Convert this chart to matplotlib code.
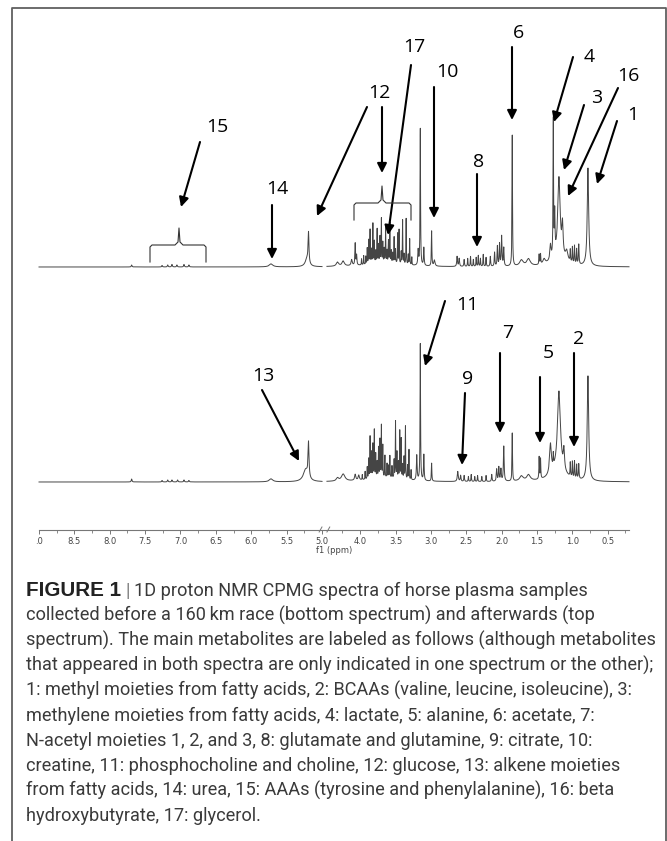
import numpy as np
import matplotlib.pyplot as plt
from matplotlib.lines import Line2D
from matplotlib.patches import FancyArrowPatch
from matplotlib.transforms import Affine2D

W, H = 667, 841

# peak tables: position (ppm), height (px), half width (ppm)
top_ppm = [7.69, 7.26, 7.18, 7.12, 7.05, 6.95, 6.88, 5.72, 5.19, 5.21,
           4.32, 4.24, 4.12, 4.07, 4.05,
           3.98, 3.95, 3.92, 3.90, 3.88, 3.86, 3.84, 3.82, 3.80, 3.78, 3.76,
           3.74, 3.72, 3.70, 3.68, 3.66, 3.64, 3.62, 3.60, 3.58, 3.56, 3.54,
           3.52, 3.50, 3.47, 3.45, 3.42, 3.40, 3.38, 3.35, 3.32, 3.30, 3.27,
           3.65, 3.18, 3.15, 3.10, 2.99, 2.95,
           2.63, 2.60, 2.53, 2.48, 2.44, 2.40, 2.36, 2.33, 2.30, 2.26, 2.22,
           2.16, 2.10, 2.06, 2.03, 2.00, 1.97, 1.85, 1.72, 1.62, 1.47, 1.45,
           1.40, 1.31, 1.27, 1.25, 1.19, 1.14, 1.08, 1.03, 1.00, 0.97, 0.94,
           0.91, 0.78, 1.20]
top_height = [2, 1.5, 2, 2.5, 2, 2.5, 2, 3, 30, 8,
              4, 5, 6, 22, 10,
              6, 9, 8, 16, 24, 34, 14, 40, 22, 12, 34,
              18, 26, 44, 20, 14, 36, 12, 22, 40, 12, 10,
              26, 14, 30, 34, 12, 44, 10, 46, 10, 26, 8,
              4, 15, 137, 18, 35, 6,
              10, 8, 7, 8, 10, 7, 9, 11, 8, 12, 9,
              10, 14, 20, 22, 30, 18, 131, 6, 7, 10, 10,
              5, 15, 136, 40, 80, 30, 10, 12, 16, 18, 15,
              20, 98, 8]
top_width = [0.006, 0.006, 0.006, 0.006, 0.006, 0.006, 0.006, 0.03, 0.007, 0.03,
             0.02, 0.02, 0.01, 0.005, 0.005,
             0.003, 0.003, 0.003, 0.003, 0.003, 0.003, 0.003, 0.003, 0.003, 0.003, 0.003,
             0.003, 0.003, 0.003, 0.003, 0.003, 0.003, 0.003, 0.003, 0.003, 0.003, 0.003,
             0.003, 0.003, 0.003, 0.003, 0.003, 0.003, 0.003, 0.003, 0.003, 0.003, 0.003,
             0.3, 0.006, 0.004, 0.005, 0.004, 0.01,
             0.006, 0.006, 0.005, 0.004, 0.004, 0.004, 0.004, 0.004, 0.004, 0.004, 0.004,
             0.005, 0.005, 0.005, 0.005, 0.006, 0.005, 0.004, 0.03, 0.03, 0.004, 0.004,
             0.02, 0.01, 0.004, 0.005, 0.02, 0.01, 0.02, 0.004, 0.004, 0.004, 0.004,
             0.005, 0.012, 0.12]

bot_ppm = [7.69, 7.26, 7.18, 7.12, 7.04, 6.95, 6.88, 5.72, 5.19, 5.23,
           4.32, 4.24, 4.07, 4.02,
           3.97, 3.93, 3.90, 3.88, 3.86, 3.84, 3.82, 3.80, 3.78, 3.76, 3.74,
           3.72, 3.70, 3.68, 3.65, 3.62, 3.60, 3.58, 3.55, 3.52, 3.50, 3.48,
           3.46, 3.44, 3.42, 3.40, 3.38, 3.36, 3.33, 3.31, 3.28,
           3.65, 3.20, 3.15, 3.10, 2.99,
           2.62, 2.58, 2.53, 2.47, 2.43, 2.38, 2.34, 2.28, 2.22, 2.14, 2.07,
           2.04, 2.01, 1.97, 1.85, 1.72, 1.62, 1.47, 1.45, 1.31, 1.27, 1.19,
           1.12, 1.03, 1.00, 0.97, 0.94, 0.91, 0.78, 1.20]
bot_height = [3, 1.5, 2, 2, 2, 2, 1.5, 3, 35, 12,
              3, 7, 6, 5,
              5, 8, 12, 20, 42, 26, 34, 48, 24, 16, 30,
              38, 52, 32, 22, 14, 12, 22, 12, 18, 57, 26,
              16, 48, 40, 14, 22, 53, 14, 30, 10,
              4, 25, 137, 26, 18,
              10, 6, 6, 5, 7, 5, 6, 5, 6, 7, 12,
              14, 12, 35, 48, 5, 6, 22, 20, 30, 12, 80,
              20, 14, 16, 17, 14, 15, 105, 10]
bot_width = [0.006, 0.006, 0.006, 0.006, 0.006, 0.006, 0.006, 0.03, 0.008, 0.04,
             0.02, 0.03, 0.01, 0.01,
             0.003, 0.003, 0.003, 0.003, 0.003, 0.003, 0.003, 0.003, 0.003, 0.003, 0.003,
             0.003, 0.003, 0.003, 0.003, 0.003, 0.003, 0.003, 0.003, 0.003, 0.003, 0.003,
             0.003, 0.003, 0.003, 0.003, 0.003, 0.003, 0.003, 0.003, 0.003,
             0.3, 0.006, 0.004, 0.005, 0.004,
             0.008, 0.006, 0.005, 0.004, 0.004, 0.004, 0.004, 0.004, 0.004, 0.005, 0.006,
             0.006, 0.006, 0.006, 0.004, 0.03, 0.03, 0.004, 0.004, 0.015, 0.004, 0.025,
             0.01, 0.004, 0.004, 0.004, 0.004, 0.005, 0.012, 0.12]

tick_major = [9.0, 8.5, 8.0, 7.5, 7.0, 6.5, 6.0, 5.5, 5.0,
              4.0, 3.5, 3.0, 2.5, 2.0, 1.5, 1.0, 0.5]
tick_labels = ['.0', '8.5', '8.0', '7.5', '7.0', '6.5', '6.0', '5.5', '5.0',
               '4.0', '3.5', '3.0', '2.5', '2.0', '1.5', '1.0', '0.5']
tick_minor = [8.75, 8.25, 7.75, 7.25, 6.75, 6.25, 5.75, 5.25,
              4.25, 3.75, 3.25, 2.75, 2.25, 1.75, 1.25, 0.75, 0.25]

# number label, label position, arrow start, arrow tip (pixels from top-left)
labels = [
    ('6', (519, 33), [((512, 47), (512, 120))]),
    ('4', (589, 57), [((573, 57), (554, 122))]),
    ('16', (628, 76), [((618, 88), (568, 196))]),
    ('3', (597, 98), [((584, 105), (564, 170))]),
    ('1', (633, 115), [((617, 121), (597, 184))]),
    ('17', (414, 47), [((411, 65), (388, 235))]),
    ('10', (447, 72), [((434, 87), (434, 218))]),
    ('12', (379, 93), [((367, 107), (317, 216)), ((382, 107), (382, 173))]),
    ('15', (217, 127), [((200, 142), (181, 207))]),
    ('14', (277, 189), [((272, 205), (272, 259))]),
    ('8', (479, 162), [((477, 174), (477, 247))]),
    ('11', (467, 305), [((445, 301), (425, 366))]),
    ('13', (263, 376), [((262, 390), (299, 461))]),
    ('9', (468, 379), [((465, 393), (462, 465))]),
    ('7', (508, 333), [((500, 353), (500, 433))]),
    ('5', (548, 353), [((540, 377), (540, 443))]),
    ('2', (579, 339), [((574, 353), (574, 447))]),
]

caption = [
    "collected before a 160\u2009km race (bottom spectrum) and afterwards (top",
    "spectrum). The main metabolites are labeled as follows (although metabolites",
    "that appeared in both spectra are only indicated in one spectrum or the other);",
    "1: methyl moieties from fatty acids, 2: BCAAs (valine, leucine, isoleucine), 3:",
    "methylene moieties from fatty acids, 4: lactate, 5: alanine, 6: acetate, 7:",
    "N-acetyl moieties 1, 2, and 3, 8: glutamate and glutamine, 9: citrate, 10:",
    "creatine, 11: phosphocholine and choline, 12: glucose, 13: alkene moieties",
    "from fatty acids, 14: urea, 15: AAAs (tyrosine and phenylalanine), 16: beta",
    "hydroxybutyrate, 17: glycerol.",
]


def lorentz_sum(x, pos, height, width):
    y = np.zeros_like(x)
    for p, h, w in zip(pos, height, width):
        y += h * w ** 2 / ((x - p) ** 2 + w ** 2)
    return y


# axis break: the 4.5-5.0 ppm (water) region is squeezed out
def fwd(x):
    x = np.asarray(x, float)
    return np.where(x <= 4.5, x, np.where(x >= 5.0, x - 0.46, 4.5 + (x - 4.5) * 0.08))


def inv(u):
    u = np.asarray(u, float)
    return np.where(u <= 4.5, u, np.where(u >= 4.54, u + 0.46, 4.5 + (u - 4.5) / 0.08))


fig = plt.figure(figsize=(W / 100, H / 100), dpi=100)
pix = Affine2D().scale(1 / W, -1 / H).translate(0, 1) + fig.transFigure

ax = fig.add_axes([39 / W, 1 - 530 / H, 590 / W, 520 / H])
ax.set_xscale('function', functions=(fwd, inv))
ax.set_xlim(9.0, 0.2)
ax.set_ylim(0, 520)

ppm = np.linspace(0.2, 9.0, 16000)
gap = (ppm > 4.47) & (ppm < 4.99)
y_top = lorentz_sum(ppm, top_ppm, top_height, top_width)
y_bot = lorentz_sum(ppm, bot_ppm, bot_height, bot_width)
y_top[gap] = np.nan
y_bot[gap] = np.nan
ax.plot(ppm, 263 + y_top, color='#454545', lw=0.7, clip_on=False)
ax.plot(ppm, 48 + y_bot, color='#454545', lw=0.7, clip_on=False)

for s in ['top', 'left', 'right']:
    ax.spines[s].set_visible(False)
ax.spines['bottom'].set_color('#777777')
ax.spines['bottom'].set_linewidth(0.8)
ax.set_yticks([])
ax.set_xticks(tick_major)
ax.set_xticklabels(tick_labels)
ax.set_xticks(tick_minor, minor=True)
ax.tick_params(axis='x', which='major', length=3, width=0.7, color='#777777',
               labelsize=6, labelcolor='#444444', pad=2)
ax.tick_params(axis='x', which='minor', length=2, width=0.6, color='#777777')
ax.set_xlabel('f1 (ppm)', fontsize=6, color='#444444', labelpad=0)

# break mark on the axis
ax.plot([5.04, 5.00], [-2, 3], color='#777777', lw=0.7, clip_on=False)
ax.plot([4.47, 4.43], [-2, 3], color='#777777', lw=0.7, clip_on=False)

# frame round the panel
fig.add_artist(Line2D([12, 12, 666, 666], [850, 8.5, 8.5, 850], transform=pix,
                      color='#606060', lw=1.3))

# braces over groups of peaks
brace_12 = [(354, 220), (354, 205), (356, 203), (378, 203), (381, 200), (382, 186),
            (383, 200), (386, 203), (409, 203), (411, 205), (411, 220)]
brace_15 = [(150, 262), (150, 247), (152, 245), (175, 245), (178, 242), (179, 228),
            (180, 242), (183, 245), (204, 245), (206, 247), (206, 262)]
for br in [brace_12, brace_15]:
    bx, by = zip(*br)
    fig.add_artist(Line2D(bx, by, transform=pix, color='#333333', lw=0.8))

for txt, (lx, ly), arrows in labels:
    fig.text(lx, ly, txt, transform=pix, ha='center', va='center',
             fontsize=14, family='Open Sans', color='black')
    for start, tip in arrows:
        fig.add_artist(FancyArrowPatch(start, tip, transform=pix,
                                       arrowstyle='-|>,head_length=0.4,head_width=0.2',
                                       mutation_scale=14, lw=1.5, color='black',
                                       shrinkA=0, shrinkB=0))

# caption
cap_font = dict(family=['Roboto', 'DejaVu Sans'], color='#3a3a3a')
base0, step = 596, 25.0
t_fig = fig.text(26, base0, 'FIGURE 1', transform=pix, va='baseline', ha='left',
                 fontsize=12, fontweight='bold',
                 family=['Liberation Sans Narrow', 'Liberation Sans'], color='#222222')
t_bar = ax.annotate('|', xy=(1, base0), xycoords=(t_fig, pix), xytext=(4, 0),
                    textcoords='offset pixels', va='baseline', ha='left',
                    fontsize=12, color='#888888', fontweight='bold',
                    family=['Roboto', 'DejaVu Sans'], annotation_clip=False)
t_rest = ax.annotate('1D proton NMR CPMG spectra of horse plasma samples',
                     xy=(1, base0), xycoords=(t_bar, pix), xytext=(4, 0),
                     textcoords='offset pixels', va='baseline', ha='left',
                     fontsize=12, annotation_clip=False, **cap_font)
cap_texts = [t_rest]
for i, line in enumerate(caption):
    cap_texts.append(fig.text(26, base0 + step * (i + 1), line, transform=pix,
                              va='baseline', ha='left', fontsize=12, **cap_font))

# fit caption size to the width of the widest line
r = fig.canvas.get_renderer()
wid = cap_texts[3].get_window_extent(r).width
scale = 626 / wid
for t in cap_texts + [t_bar]:
    t.set_fontsize(12 * scale)
wfig = t_fig.get_window_extent(r).width
t_fig.set_fontsize(12 * 95 / wfig)

fig.savefig('out.png', dpi=100, facecolor='white')
